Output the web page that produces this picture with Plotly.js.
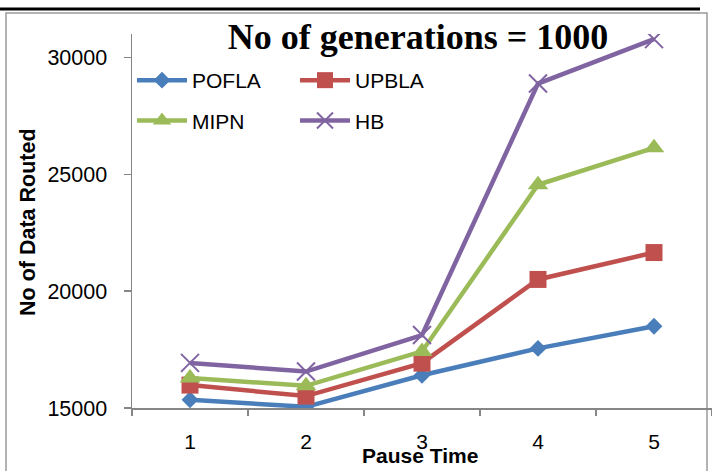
<!DOCTYPE html>
<html>
<head>
<meta charset="utf-8">
<script src="https://cdn.plot.ly/plotly-3.0.1.min.js"></script>
<style>html,body{margin:0;padding:0;background:#fff;}#chart{width:712px;height:471px;}</style>
</head>
<body>
<div id="chart"></div>
<script>
// ---- data ----
var pauseTime = ['1', '2', '3', '4', '5'];
var pofla = [15350, 15050, 16400, 17550, 18500];
var upbla = [15980, 15510, 16920, 20500, 21650];
var mipn  = [16280, 15950, 17420, 24550, 26130];
var hb    = [16930, 16560, 18120, 28880, 30780];
var seriesNames = ['POFLA', 'UPBLA', 'MIPN', 'HB'];
var yTicks = [15000, 20000, 25000, 30000];

var colors = ['#4A7EBB', '#C0504D', '#9BBB59', '#8064A2'];
var symbols = ['diamond', 'square', 'triangle-up', 'x-thin'];
var sizes = [13, 17, 18, 18];
var legends = ['legend', 'legend2', 'legend', 'legend2'];
var values = [pofla, upbla, mipn, hb];

var traces = values.map(function (v, i) {
  return {
    x: pauseTime, y: v, name: seriesNames[i], type: 'scatter', mode: 'lines+markers',
    line: {color: colors[i], width: 4.5},
    marker: {symbol: symbols[i], size: sizes[i], color: colors[i],
             line: {color: colors[i], width: i === 3 ? 2 : 0}},
    legend: legends[i], legendgroup: 'g' + i
  };
});

var L = 132, T = 34, W = 580, H = 374;
function px(x) { return (x - L) / W; }
function py(y) { return 1 - (y - T) / H; }

var legendFont = {family: 'Liberation Sans, Arial, sans-serif', size: 21, color: '#000'};
var layout = {
  width: 712, height: 471,
  margin: {l: L, r: 0, t: T, b: 471 - T - H, pad: 0},
  paper_bgcolor: '#fff', plot_bgcolor: '#fff',
  showlegend: true,
  title: {
    text: '<b>No of generations = 1000</b>',
    font: {family: 'Liberation Serif, Times New Roman, serif', size: 36, color: '#000'},
    xref: 'container', yref: 'container', x: 418 / 712, y: 1 - 36 / 471,
    xanchor: 'center', yanchor: 'middle'
  },
  xaxis: {
    type: 'category', range: [-0.5, 4.5], tickson: 'boundaries',
    showline: true, linecolor: '#868686', linewidth: 1.5,
    ticks: 'outside', ticklen: 6, tickcolor: '#868686', tickwidth: 1.5,
    showgrid: false, zeroline: false,
    tickfont: {family: 'Liberation Sans, Arial, sans-serif', size: 21, color: '#000'},
    ticklabelstandoff: 14
  },
  yaxis: {
    range: [15000, 31000], tickvals: yTicks, ticktext: yTicks.map(String),
    showline: true, linecolor: '#868686', linewidth: 1.5,
    ticks: 'outside', ticklen: 7, tickcolor: '#868686', tickwidth: 1.5,
    showgrid: false, zeroline: false,
    tickfont: {family: 'Liberation Sans, Arial, sans-serif', size: 21.5, color: '#000'},
    ticklabelstandoff: 12
  },
  legend: {x: px(132), y: py(60), xanchor: 'left', yanchor: 'top', bgcolor: 'rgba(0,0,0,0)',
           font: legendFont, tracegroupgap: 10, itemwidth: 50},
  legend2: {x: px(295), y: py(60), xanchor: 'left', yanchor: 'top', bgcolor: 'rgba(0,0,0,0)',
            font: legendFont, tracegroupgap: 10, itemwidth: 50},
  annotations: [
    {text: '<b>Pause Time</b>', xref: 'paper', yref: 'paper', x: px(420), y: py(455),
     xanchor: 'center', yanchor: 'middle', showarrow: false,
     font: {family: 'Liberation Sans, Arial, sans-serif', size: 21, color: '#000'}},
    {text: '<b>No of Data Routed</b>', xref: 'paper', yref: 'paper', x: px(28), y: py(222),
     xanchor: 'center', yanchor: 'middle', showarrow: false, textangle: -90,
     font: {family: 'Liberation Sans, Arial, sans-serif', size: 21.5, color: '#000'}}
  ],
  shapes: [
    {type: 'rect', xref: 'paper', yref: 'paper', x0: px(6), x1: px(707), y0: py(480), y1: py(13),
     line: {color: '#9a9a9a', width: 1.5}, fillcolor: 'rgba(0,0,0,0)', layer: 'below'},
    {type: 'line', xref: 'paper', yref: 'paper', x0: px(0), x1: px(700), y0: py(9), y1: py(9),
     line: {color: '#000', width: 3}}
  ]
};

Plotly.newPlot('chart', traces, layout, {displayModeBar: false, staticPlot: true});
</script>
</body>
</html>
